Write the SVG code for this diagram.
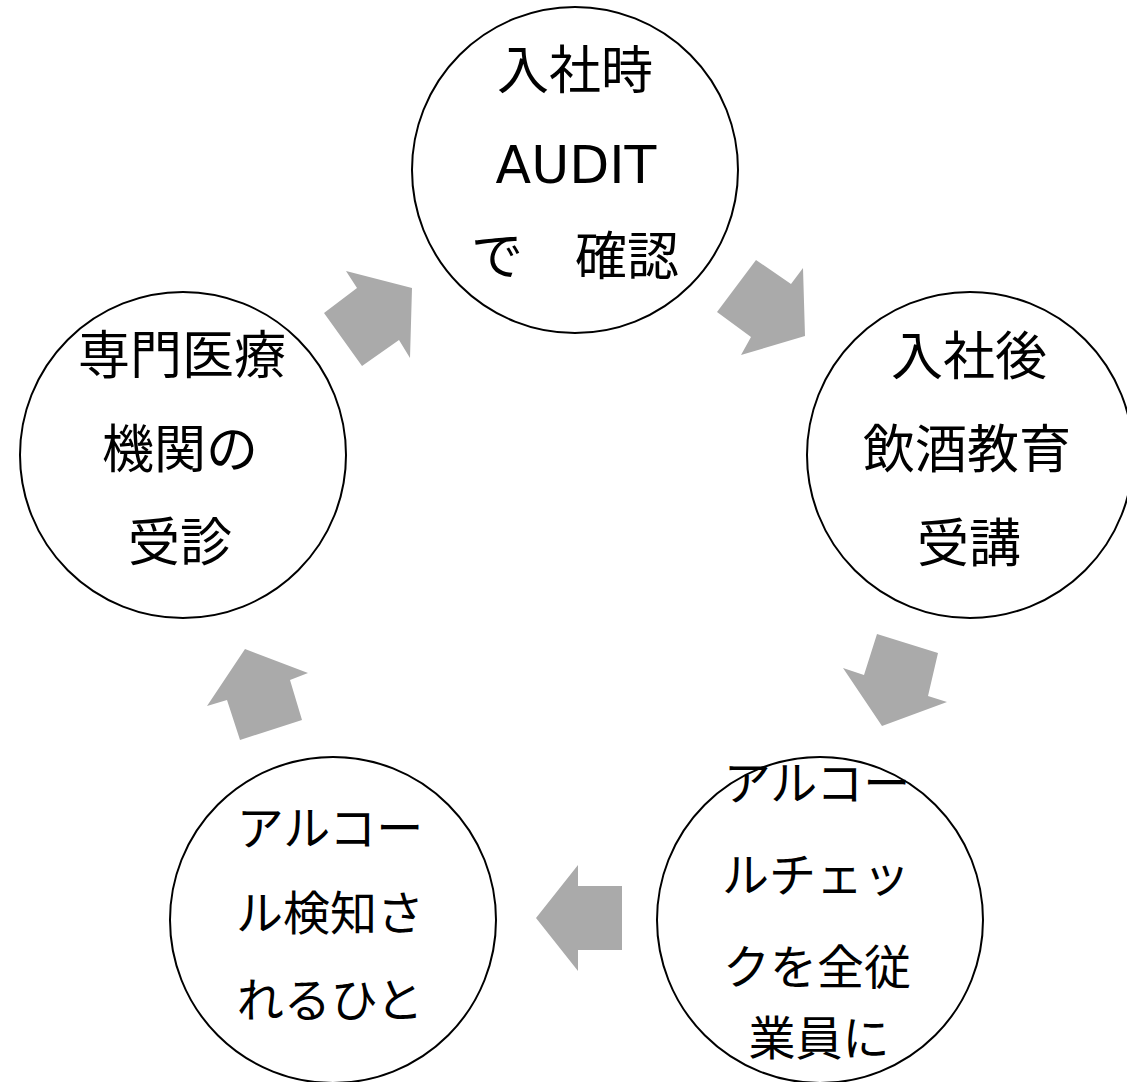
<svg xmlns="http://www.w3.org/2000/svg" width="1127" height="1082" viewBox="0 0 1127 1082">
<style>
.c{fill:#ffffff;stroke:#000000;stroke-width:2}
.a{fill:#aaaaaa;stroke:none}
.t{font-family:"DejaVu Sans","Noto Sans CJK JP",sans-serif;fill:#000000;text-anchor:middle;font-size:52px}
.s{font-size:47px}
</style>
<rect width="1127" height="1082" fill="#ffffff"/>
<g id="connectors">
<polygon class="a" points="324,313 357,288 346,271 412,288 410,358 399,340 362,366"/>
<polygon class="a" points="756,260 791,284 803,268 805,336 741,355 751,337 717,312"/>
<polygon class="a" points="877,634 938,653 928,696 947,702 882,726 843,668 864,675"/>
<polygon class="a" points="536,918 578,865 578,886 622,886 622,950 578,950 578,971"/>
<polygon class="a" points="245,649 308,673 290,680 302,720 240,740 227,700 207,706"/>
</g>
<g id="node-top">
<circle class="c" cx="575" cy="170" r="163"/>
<text class="t" x="575" y="89">入社時</text>
<text class="t" x="576" y="183">AUDIT</text>
<text class="t" x="575" y="275">で　確認</text>
</g>
<g id="node-right">
<circle class="c" cx="970" cy="455" r="163"/>
<text class="t" x="969" y="375">入社後</text>
<text class="t" x="967" y="468">飲酒教育</text>
<text class="t" x="969" y="562">受講</text>
</g>
<g id="node-bottom-right">
<circle class="c" cx="820" cy="920" r="163"/>
<text class="t s" x="817" y="800">アルコー</text>
<text class="t s" x="816" y="892">ルチェッ</text>
<text class="t s" x="817" y="984">クを全従</text>
<text class="t s" x="819" y="1055">業員に</text>
</g>
<g id="node-bottom-left">
<circle class="c" cx="333" cy="920" r="163"/>
<text class="t s" x="330" y="845">アルコー</text>
<text class="t s" x="330" y="930">ル検知さ</text>
<text class="t s" x="330" y="1017">れるひと</text>
</g>
<g id="node-left">
<circle class="c" cx="183" cy="455" r="163"/>
<text class="t" x="182" y="374">専門医療</text>
<text class="t" x="180" y="468">機関の</text>
<text class="t" x="180" y="561">受診</text>
</g>
</svg>
